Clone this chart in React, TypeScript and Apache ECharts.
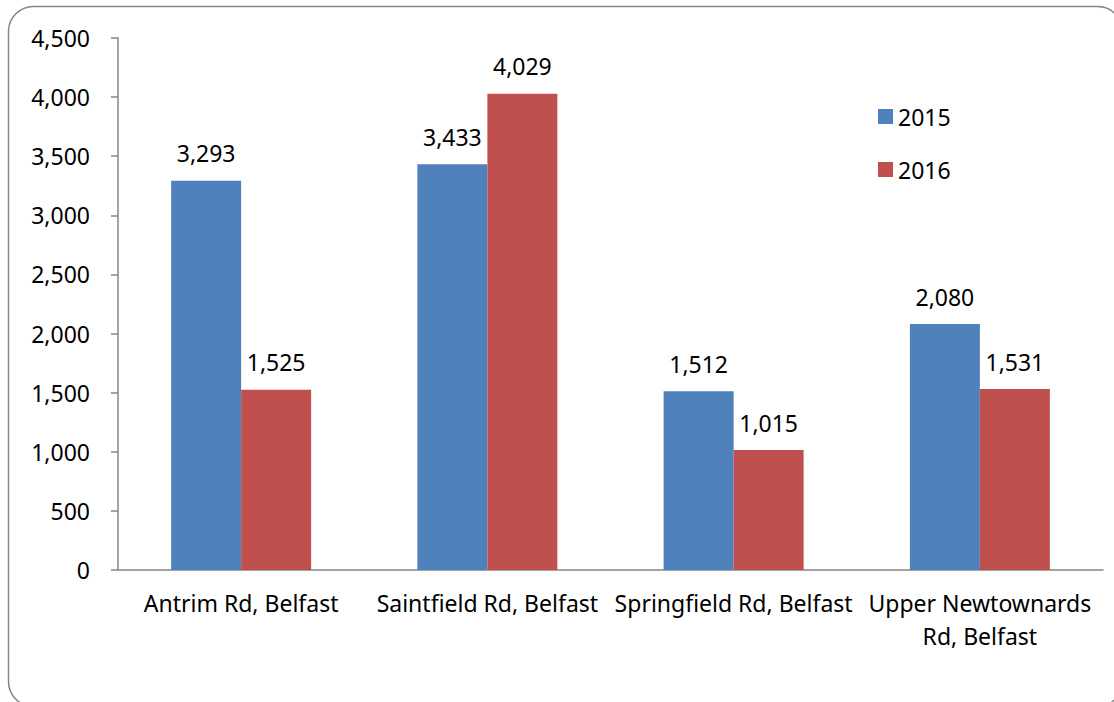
import React, { useEffect, useRef } from "react";
import * as echarts from "echarts";

const categories = [
  "Antrim Rd, Belfast",
  "Saintfield Rd, Belfast",
  "Springfield Rd, Belfast",
  "Upper Newtownards\nRd, Belfast",
];
const values2015 = [3293, 3433, 1512, 2080];
const values2016 = [1525, 4029, 1015, 1531];
const yTicks = { min: 0, max: 4500, interval: 500 };

const FONT = "'Noto Sans', 'Open Sans', sans-serif";
const AXIS_GREY = "#868686";

const fmt = (v: number) => v.toLocaleString("en-US");

export default function App() {
  const ref = useRef<HTMLDivElement>(null);

  useEffect(() => {
    if (!ref.current) return;
    const chart = echarts.init(ref.current, undefined, { renderer: "svg" });
    const label = {
      show: true,
      position: "top" as const,
      distance: 16,
      color: "#000",
      fontFamily: FONT,
      fontSize: 23,
      formatter: (p: any) => fmt(p.value),
    };
    chart.setOption({
      animation: false,
      backgroundColor: "#fff",
      textStyle: { fontFamily: FONT },
      graphic: [
        {
          type: "rect",
          shape: { x: 8.5, y: 6.5, width: 1114, height: 700, r: 25 },
          style: { fill: "none", stroke: AXIS_GREY, lineWidth: 1.5 },
          z: -1,
        },
      ],
      grid: { left: 118, top: 38, right: 11, bottom: 132 },
      legend: {
        orient: "vertical",
        left: 873,
        top: 100,
        itemWidth: 15,
        itemHeight: 15,
        itemGap: 30,
        icon: "rect",
        textStyle: { fontFamily: FONT, fontSize: 23, color: "#000", lineHeight: 23 },
        data: ["2015", "2016"],
      },
      xAxis: {
        type: "category",
        data: categories,
        axisLine: { lineStyle: { color: AXIS_GREY, width: 1.5 } },
        axisTick: { alignWithLabel: false, length: 7, lineStyle: { color: AXIS_GREY, width: 1.5 } },
        axisLabel: {
          color: "#000",
          fontFamily: FONT,
          fontSize: 23,
          lineHeight: 33,
          margin: 16,
          interval: 0,
        },
      },
      yAxis: {
        type: "value",
        min: yTicks.min,
        max: yTicks.max,
        interval: yTicks.interval,
        splitLine: { show: false },
        axisLine: { show: true, lineStyle: { color: AXIS_GREY, width: 1.5 } },
        axisTick: { show: true, length: 7, lineStyle: { color: AXIS_GREY, width: 1.5 } },
        axisLabel: {
          color: "#000",
          fontFamily: FONT,
          fontSize: 23,
          margin: 28,
          formatter: (v: number) => fmt(v),
        },
      },
      series: [
        {
          name: "2015",
          type: "bar",
          data: values2015,
          barWidth: 70,
          barGap: "0%",
          itemStyle: { color: "#4F81BD" },
          label,
        },
        {
          name: "2016",
          type: "bar",
          data: values2016,
          barWidth: 70,
          barGap: "0%",
          itemStyle: { color: "#C0504D" },
          label,
        },
      ],
    });
    return () => chart.dispose();
  }, []);

  return (
    <div
      ref={ref}
      style={{ position: "absolute", left: 0, top: 0, width: 1114, height: 702 }}
    />
  );
}
